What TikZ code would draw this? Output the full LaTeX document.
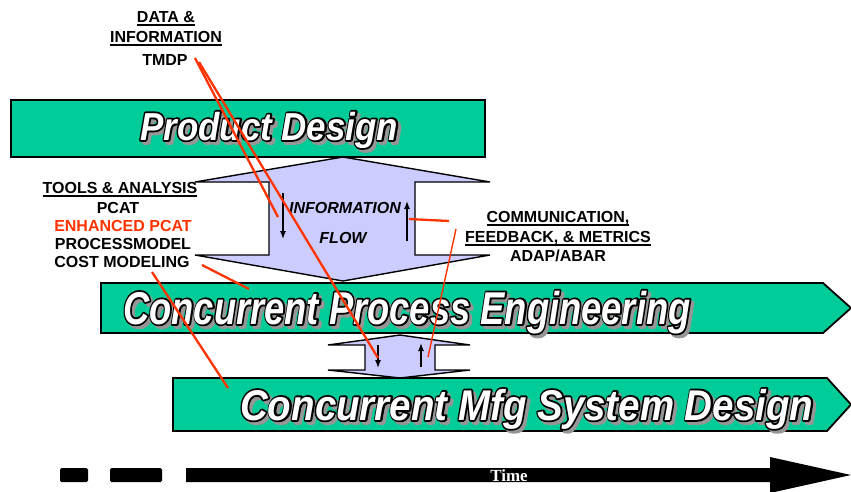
\documentclass[tikz,border=0pt]{standalone}
\usepackage{fontspec}
\setmainfont{Liberation Sans}
\newfontfamily\timefont{Liberation Serif}
\usepackage{graphicx}
\usepackage{xcolor}
\usetikzlibrary{calc,arrows.meta}
\definecolor{barGreen}{RGB}{0,204,153}
\definecolor{flowLilac}{RGB}{204,204,255}
\definecolor{linkRed}{RGB}{255,51,0}
\definecolor{shadowGray}{RGB}{150,150,150}
\tikzset{
	greenbar/.style={draw=black, line width=1.8pt, fill=barGreen, line join=miter},
	flowarrow/.style={draw=black, line width=1.4pt, fill=flowLilac},
	lbl/.style={font=\fontsize{16}{19}\selectfont\bfseries, inner sep=0pt, anchor=base},
	flowlbl/.style={font=\fontsize{16}{19}\selectfont\bfseries\itshape, inner sep=0pt, anchor=base},
	titletext/.style={inner sep=0pt, anchor=base west},
	flowtip/.style={-{Latex[length=8pt,width=6pt]}, line width=1.3pt},
	redline/.style={draw=linkRed, line width=2.3pt},
	thinred/.style={draw=linkRed, line width=1.4pt}
}
\newsavebox{\ulbox}
\newcommand{\uln}[1]{\sbox{\ulbox}{#1}\rlap{\rule[-4pt]{\wd\ulbox}{1.8pt}}\usebox{\ulbox}}
% glyphs stroked only: stroke colour (r g b), width, text
\newcommand{\strokedtext}[3]{\special{pdf:literal direct 1 Tr #2 w 1 j #1 RG}#3\special{pdf:literal direct 0 Tr 0.4 w 0 j 0 0 0 RG}}
% outlined title with gray shadow: name, base point, size, xscale, text
\newcommand{\bartitle}[5]{%
	\node[titletext, text=shadowGray, font=\fontsize{#3}{#3}\selectfont\bfseries\itshape] (#1s) at ($(#2)+(3,3)$)
		{\scalebox{#4}[1]{\rlap{\strokedtext{0.59 0.59 0.59}{3.6}{#5}}#5}};
	\node[titletext, text=white, font=\fontsize{#3}{#3}\selectfont\bfseries\itshape] (#1) at (#2)
		{\scalebox{#4}[1]{\rlap{\strokedtext{0 0 0}{3.6}{#5}}#5}};
}

\begin{document}
\begin{tikzpicture}[x=1pt,y=-1pt]
	\useasboundingbox (0,0) rectangle (851,491);
	% stages and information flow
	\draw[greenbar] (11,100) rectangle (485,157);
	\draw[flowarrow] (343,157) -- (490,182) -- (415,182) -- (415,255) -- (490,255) -- (343,281)
		-- (195,255) -- (269,255) -- (269,182) -- (195,182) -- cycle;
	\draw[greenbar] (101,283) -- (823,283) -- (851,308) -- (823,333) -- (101,333) -- cycle;
	\draw[flowarrow] (400,335) -- (470,345) -- (435,345) -- (435,370) -- (470,370) -- (400,378)
		-- (328,370) -- (365,370) -- (365,345) -- (328,345) -- cycle;
	\draw[greenbar] (173,378) -- (827,378) -- (851,404.5) -- (827,431) -- (173,431) -- cycle;
	\coordinate (pd_base) at (140,140);
	\coordinate (cpe_base) at (123,324);
	\coordinate (cmsd_base) at (240,420);
	\bartitle{pd}{pd_base}{39}{0.895}{Product Design}
	\bartitle{cpe}{cpe_base}{46}{0.79}{Concurrent Process Engineering}
	\bartitle{cmsd}{cmsd_base}{43}{0.895}{Concurrent Mfg System Design}
	% labels
	\node[lbl] (data) at (166,22) {\uln{DATA \&}};
	\node[lbl] (info) at (166,42) {\uln{INFORMATION}};
	\node[lbl] (tmdp) at (165,65) {TMDP};
	\node[lbl] (tools) at (120,193) {\uln{TOOLS \& ANALYSIS}};
	\node[lbl] (pcat) at (118,213) {PCAT};
	\node[lbl, text=linkRed] (epcat) at (123,231) {ENHANCED PCAT};
	\node[lbl] (pmodel) at (123,249) {PROCESSMODEL};
	\node[lbl] (costmod) at (122,267) {COST MODELING};
	\node[lbl] (comm) at (558,222) {\uln{COMMUNICATION,}};
	\node[lbl] (feedback) at (558,242) {\uln{FEEDBACK, \& METRICS}};
	\node[lbl] (adap) at (558,261) {ADAP/ABAR};
	\node[flowlbl] (infoflow) at (345,213) {INFORMATION};
	\node[flowlbl] (flow) at (343,243) {FLOW};
	% flow arrows
	\coordinate (dn_top) at (283,193);
	\coordinate (dn_end) at (283,239);
	\coordinate (up_bot) at (407,241);
	\coordinate (up_end) at (407,201);
	\coordinate (sdn_top) at (378,345);
	\coordinate (sdn_end) at (378,368);
	\coordinate (sup_bot) at (421,367);
	\coordinate (sup_end) at (421,343);
	\draw[flowtip] (dn_top) -- (dn_end);
	\draw[flowtip] (up_bot) -- (up_end);
	\draw[flowtip] (sdn_top) -- (sdn_end);
	\draw[flowtip] (sup_bot) -- (sup_end);
	% red pointers
	\coordinate (tmdp_a) at (195,58);
	\coordinate (tmdp_b) at (199,62);
	\coordinate (dn_mid) at (278,217);
	\coordinate (sdn_mid) at (378,358);
	\coordinate (up_mid) at (409,219);
	\coordinate (comm_w) at (449,221);
	\coordinate (comm_sw) at (456,229);
	\coordinate (sup_mid) at (428,357);
	\coordinate (cost_e) at (202,265);
	\coordinate (cpe_pt) at (249,289);
	\coordinate (cost_s) at (152,272);
	\coordinate (cmsd_pt) at (228,388);
	\draw[redline] (tmdp_a) -- (dn_mid);
	\draw[redline] (tmdp_b) -- (sdn_mid);
	\draw[redline] (up_mid) -- (comm_w);
	\draw[thinred] (comm_sw) -- (sup_mid);
	\draw[redline] (cost_e) -- (cpe_pt);
	\draw[redline] (cost_s) -- (cmsd_pt);
	% time axis
	\fill[rounded corners=1.5pt] (60,468) rectangle (88,482);
	\fill[rounded corners=1.5pt] (110,468) rectangle (162,482);
	\fill (186,468) -- (770,468) -- (770,457) -- (851,475) -- (770,493) -- (770,482) -- (186,482) -- cycle;
	\node[inner sep=0pt, anchor=base, text=white, font=\timefont\fontsize{17}{17}\selectfont\bfseries] (time) at (509,481) {Time};
\end{tikzpicture}
\end{document}
